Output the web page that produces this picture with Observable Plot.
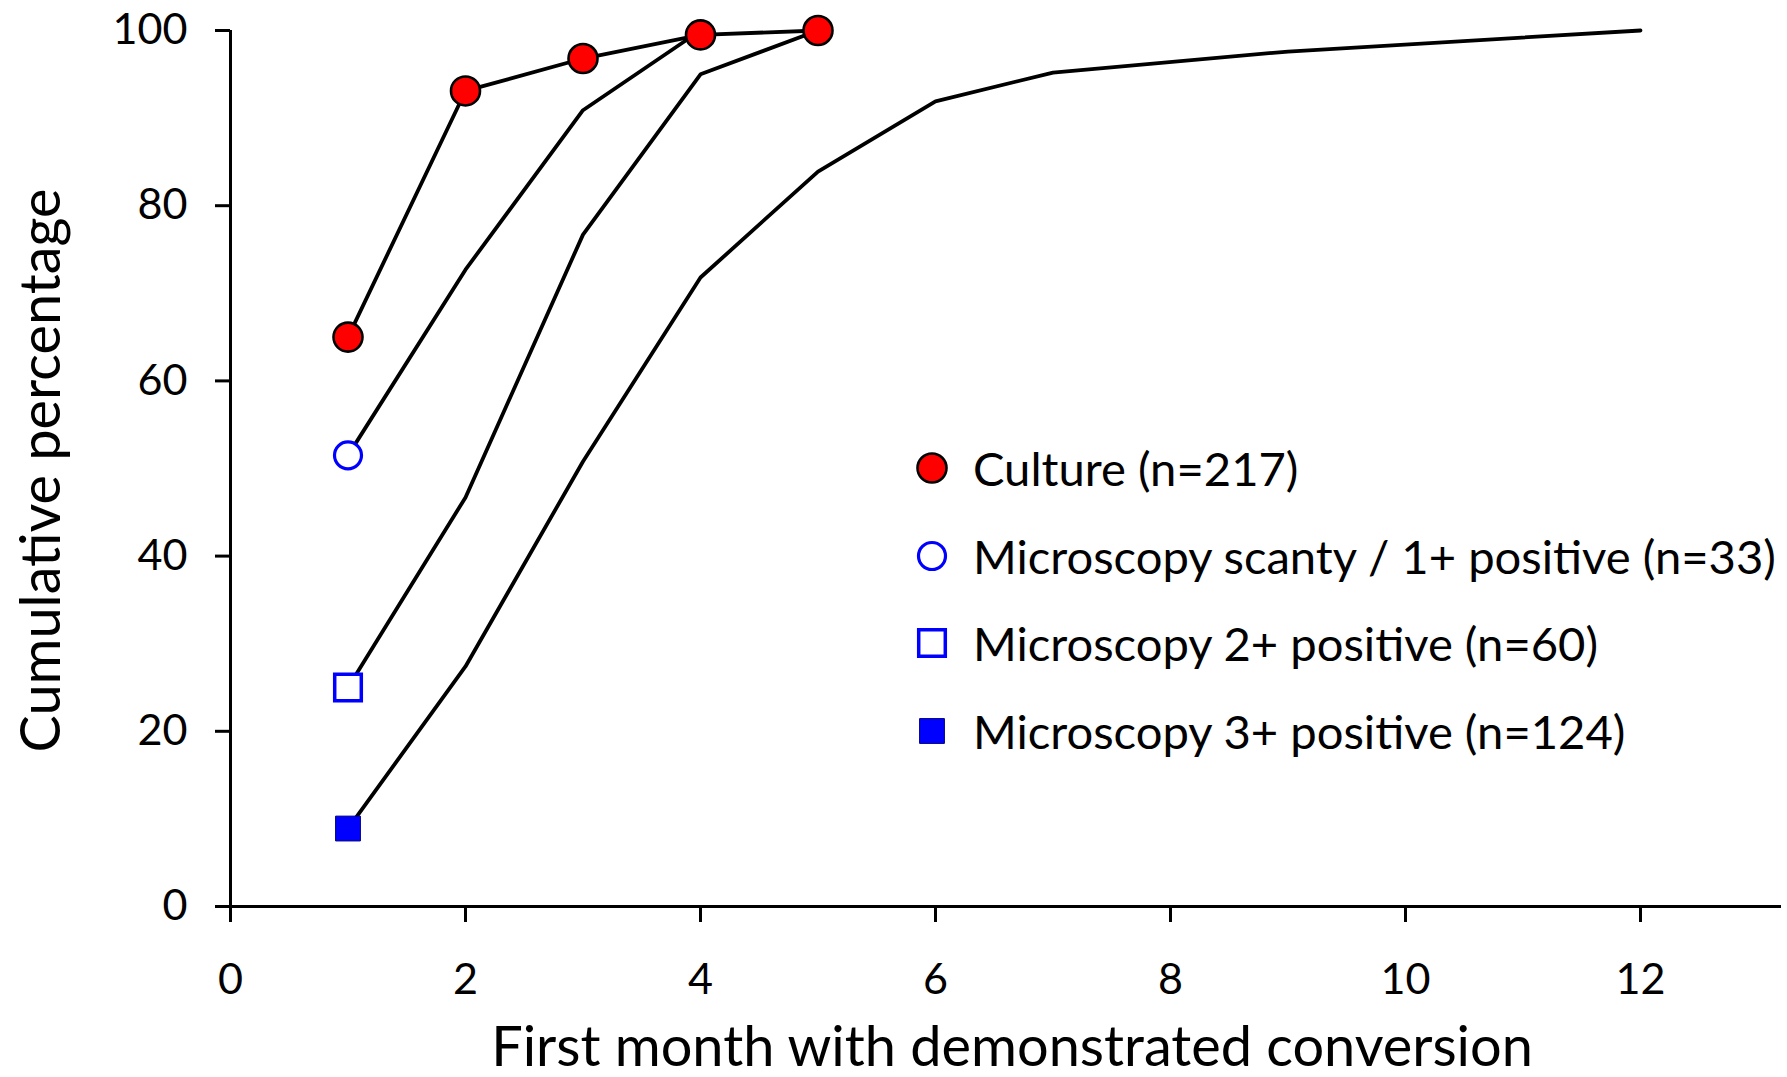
<!DOCTYPE html>
<html>
<head>
<meta charset="utf-8">
<script src="https://cdn.jsdelivr.net/npm/d3@7"></script>
<script src="https://cdn.jsdelivr.net/npm/@observablehq/plot@0.6"></script>
<style>
  html, body { margin: 0; padding: 0; background: #fff; }
  #wrap { position: relative; width: 1787px; height: 1077px; font-family: Lato, sans-serif; }
  #legend { position: absolute; left: 0; top: 0; }
  .lg-mark { position: absolute; }
  .lg-text { position: absolute; white-space: nowrap; color: #000; line-height: 1; }
</style>
</head>
<body>
<div id="wrap"></div>
<script>
// ---- data ----
const seriesNames = ["Culture (n=217)", "Microscopy scanty / 1+ positive (n=33)", "Microscopy 2+ positive (n=60)", "Microscopy 3+ positive (n=124)"];
const cultureMonths = [1, 2, 3, 4, 5];
const cultureValues = [65.0, 93.1, 96.8, 99.5, 100];
const scantyMonths = [1, 2, 3, 4];
const scantyValues = [51.5, 72.7, 90.9, 100];
const micro2Months = [1, 2, 3, 4, 5];
const micro2Values = [25.0, 46.7, 76.7, 95.0, 100];
const micro3Months = [1, 2, 3, 4, 5, 6, 7, 9, 12];
const micro3Values = [8.9, 27.4, 50.8, 71.8, 83.9, 91.9, 95.2, 97.6, 100];
const xTicks = [0, 2, 4, 6, 8, 10, 12];
const yTicks = [0, 20, 40, 60, 80, 100];
const xLabel = "First month with demonstrated conversion";
const yLabel = "Cumulative percentage";

// ---- build table ----
function rows(name, months, values) {
  return months.map((m, i) => ({series: name, month: m, value: values[i], first: i === 0}));
}
const culture = rows(seriesNames[0], cultureMonths, cultureValues);
const scanty = rows(seriesNames[1], scantyMonths, scantyValues);
const micro2 = rows(seriesNames[2], micro2Months, micro2Values);
const micro3 = rows(seriesNames[3], micro3Months, micro3Values);
const all = [...culture, ...scanty, ...micro2, ...micro3];

// ---- font fitting (Lato stands in for Calibri) ----
const FAMILY = "Lato";
const cvs = document.createElement("canvas").getContext("2d");
function fit(text, target) {
  cvs.font = `100px ${FAMILY}`;
  return 100 * target / cvs.measureText(text).width;
}
const tickFont = fit("100", 75);
const legendFont = (fit(seriesNames[0], 324) + fit(seriesNames[1], 809)) / 2;
const xTitleFont = fit(xLabel, 1043);
const yTitleFont = fit(yLabel, 564);

const styles = {
  culture: {symbol: "circle", fill: "#ff0000", stroke: "#000", strokeWidth: 2.6, r: 14.5},
  scanty: {symbol: "circle", fill: "#fff", stroke: "#0000ff", strokeWidth: 3.2, r: 13.5},
  micro2: {symbol: "square", fill: "#fff", stroke: "#0000ff", strokeWidth: 3.5, r: 15},
  micro3: {symbol: "square", fill: "#0000ff", stroke: "#000080", strokeWidth: 1, r: 14}
};

const chart = Plot.plot({
  width: 1787,
  height: 1077,
  marginLeft: 230,
  marginRight: 6,
  marginTop: 30,
  marginBottom: 171,
  style: {fontFamily: FAMILY, background: "#fff", color: "#000", overflow: "visible"},
  x: {domain: [0, 13.2]},
  y: {domain: [0, 100]},
  marks: [
    Plot.axisY({ticks: yTicks, tickSize: 15, tickPadding: 28, fontSize: tickFont, strokeWidth: 3, label: null, tickFormat: d => String(d)}),
    Plot.axisX({ticks: xTicks, tickSize: 16, tickPadding: 41, fontSize: tickFont, strokeWidth: 3, label: null, tickFormat: d => String(d)}),
    Plot.ruleX([0], {y1: 0, y2: 100, stroke: "#000", strokeWidth: 3}),
    Plot.ruleY([0], {stroke: "#000", strokeWidth: 3.2}),
    Plot.line(all, {x: "month", y: "value", z: "series", stroke: "#000", strokeWidth: 3.8, strokeLinejoin: "miter"}),
    Plot.dot(culture, {x: "month", y: "value", ...styles.culture}),
    Plot.dot(scanty.filter(d => d.first), {x: "month", y: "value", ...styles.scanty}),
    Plot.dot(micro2.filter(d => d.first), {x: "month", y: "value", ...styles.micro2}),
    Plot.dot(micro3.filter(d => d.first), {x: "month", y: "value", ...styles.micro3}),
    Plot.text([xLabel], {frameAnchor: "bottom", text: d => d, dy: 142, dx: 6, textAnchor: "middle", lineAnchor: "middle", fontSize: xTitleFont, fill: "#000"}),
    Plot.text([yLabel], {frameAnchor: "left", text: d => d, rotate: -90, dx: -188, dy: 2, textAnchor: "middle", lineAnchor: "middle", fontSize: yTitleFont, fill: "#000"})
  ]
});

const wrap = document.getElementById("wrap");
wrap.appendChild(chart);

// ---- legend overlay ----
const legend = document.createElement("div");
legend.id = "legend";
wrap.appendChild(legend);
const legendStyles = [styles.culture, styles.scanty, styles.micro2, styles.micro3];
const rowCenters = [468, 556, 643, 731];
const markCx = 931.5, textX = 973;
seriesNames.forEach((name, i) => {
  const s = legendStyles[i];
  const box = 40;
  const svg = d3.create("svg").attr("class", "lg-mark").attr("width", box).attr("height", box)
    .style("left", (markCx - box / 2) + "px").style("top", (rowCenters[i] - box / 2) + "px");
  const sym = s.symbol === "circle" ? d3.symbolCircle : d3.symbolSquare;
  svg.append("path")
    .attr("d", d3.symbol(sym, Math.PI * s.r * s.r)())
    .attr("transform", `translate(${box / 2},${box / 2})`)
    .attr("fill", s.fill).attr("stroke", s.stroke).attr("stroke-width", s.strokeWidth);
  legend.appendChild(svg.node());
  const t = document.createElement("div");
  t.className = "lg-text";
  t.textContent = name;
  t.style.left = textX + "px";
  t.style.fontSize = legendFont + "px";
  t.style.top = rowCenters[i] + "px";
  t.style.transform = "translateY(-50%)";
  legend.appendChild(t);
});
</script>
</body>
</html>
